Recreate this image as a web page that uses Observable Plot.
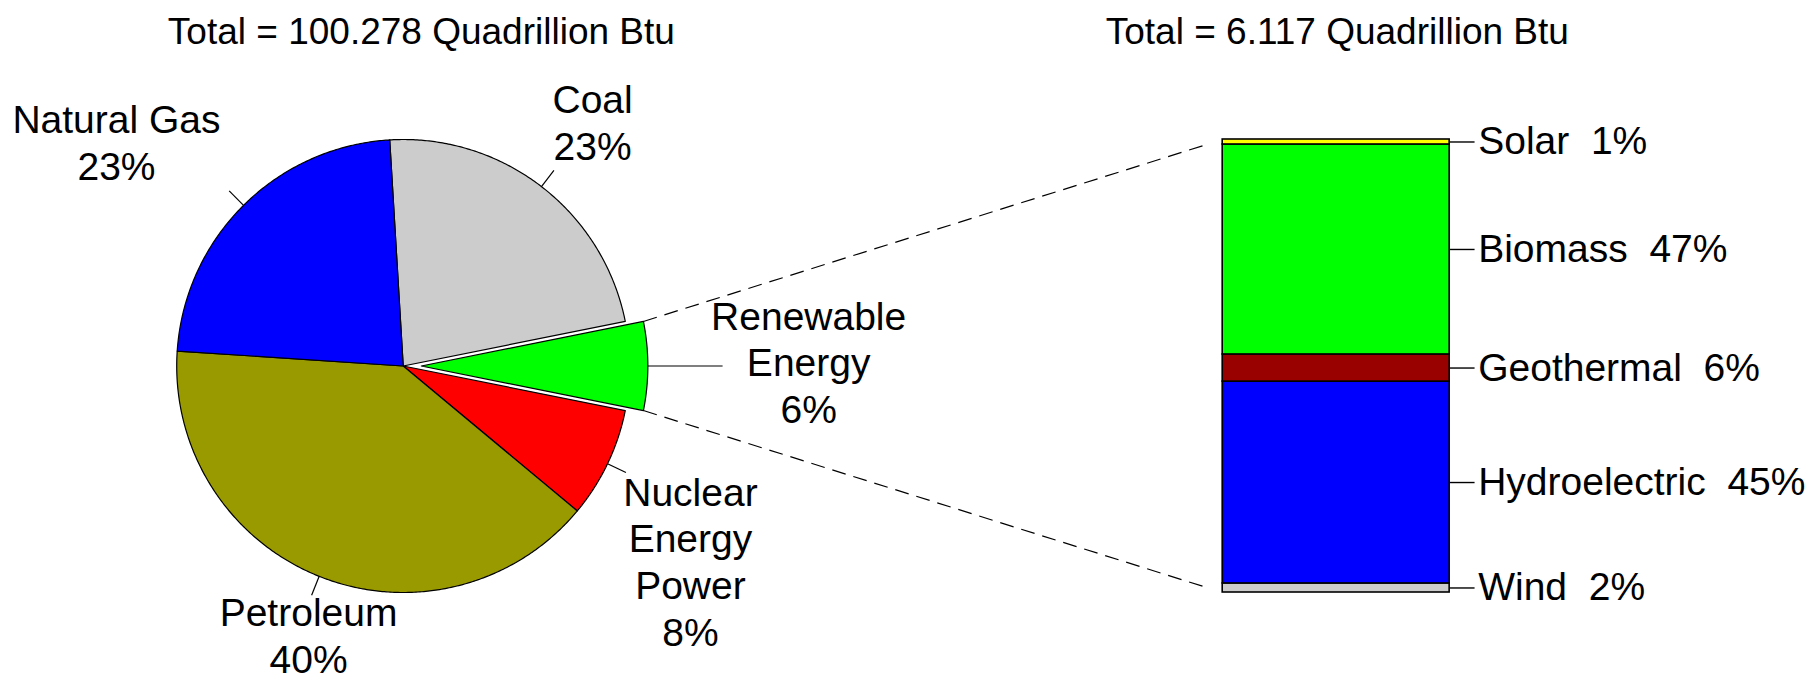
<!DOCTYPE html>
<html><head><meta charset="utf-8">
<script src="https://cdn.jsdelivr.net/npm/d3@7"></script>
<script src="https://cdn.jsdelivr.net/npm/@observablehq/plot@0.6"></script>
<style>
html,body{margin:0;padding:0;background:#fff;}
svg text{white-space:pre;}
</style></head><body><div id="chart"></div>
<script>
// ---------- DATA ----------
const pieTotal = 100.278;           // quadrillion Btu
const renewTotal = 6.117;           // quadrillion Btu
const sources = ["Coal", "Renewable Energy", "Nuclear Energy Power", "Petroleum", "Natural Gas"];
const sourceValues = [22.8, 6.3, 7.9, 40.0, 23.0];   // share of total (%)
const sourcePct = [23, 6, 8, 40, 23];                // printed labels
const sourceLabels = ["Coal", "Renewable\nEnergy", "Nuclear\nEnergy\nPower", "Petroleum", "Natural Gas"];
const sourceColors = ["#cccccc", "#00ff00", "#ff0000", "#999900", "#0000ff"];

const renewables = ["Wind", "Hydroelectric", "Geothermal", "Biomass", "Solar"]; // bottom to top
const renewValues = [2.0, 44.6, 6.0, 46.4, 1.1];     // share of renewable total (%)
const renewPct = [2, 45, 6, 47, 1];                  // printed labels
const renewColors = ["#cccccc", "#0000ff", "#990000", "#00ff00", "#ffff00"];

// ---------- LAYOUT (plot units: 1 unit = bar height) ----------
const W = 1815, H = 682, PX = 453;
const cx = 0.889, cy = 0.5, R = 0.5, explode = 0.04, explodeName = "Renewable Energy";
const barX1 = 2.698, barX2 = 3.199, tickX2 = 3.254, textX = 3.262;
const leaderLen = 0.045, leaderLenExploded = 0.165;
const labelPos = {
  "Coal": [1.307, 1.040],
  "Renewable Energy": [1.784, 0.510],
  "Nuclear Energy Power": [1.523, 0.070],
  "Petroleum": [0.680, -0.092],
  "Natural Gas": [0.256, 0.995]
};
const titleX = [0.929, 2.951], titleY = 1.238;

// ---------- PIE GEOMETRY ----------
const total = d3.sum(sourceValues);
const rad = a => a * Math.PI / 180;
let start = 90 - (sourceValues[1] / total * 360) / 2 - sourceValues[0] / total * 360;
const slices = sources.map((name, i) => {
  const a0 = start, a1 = start + sourceValues[i] / total * 360;
  start = a1;
  const am = (a0 + a1) / 2;
  const off = name === explodeName ? explode : 0;
  return {name, a0, a1, am, ox: cx + off * Math.sin(rad(am)), oy: cy + off * Math.cos(rad(am))};
});
const piePoints = [];
for (const s of slices) {
  piePoints.push({name: s.name, x: s.ox, y: s.oy});
  const n = Math.max(2, Math.ceil((s.a1 - s.a0) / 0.5));
  for (let k = 0; k <= n; k++) {
    const a = s.a0 + (s.a1 - s.a0) * k / n;
    piePoints.push({name: s.name, x: s.ox + R * Math.sin(rad(a)), y: s.oy + R * Math.cos(rad(a))});
  }
  piePoints.push({name: s.name, x: s.ox, y: s.oy});
}
const leaders = slices.map(s => {
  const L = s.name === explodeName ? leaderLenExploded : leaderLen;
  return {x1: s.ox + R * Math.sin(rad(s.am)), y1: s.oy + R * Math.cos(rad(s.am)),
          x2: s.ox + (R + L) * Math.sin(rad(s.am)), y2: s.oy + (R + L) * Math.cos(rad(s.am))};
});
const pieLabels = slices.map((s, i) => ({x: labelPos[s.name][0], y: labelPos[s.name][1], text: sourceLabels[i] + "\n" + sourcePct[i] + "%"}));

// ---------- BAR GEOMETRY ----------
const rTotal = d3.sum(renewValues);
const cum = d3.cumsum(renewValues);
const barRows = renewables.map((name, i) => {
  const y2 = cum[i] / rTotal, y1 = (cum[i] - renewValues[i]) / rTotal;
  return {name, y1, y2, ym: (y1 + y2) / 2, bx1: barX1, bx2: barX2, tx: tickX2, lx: textX, label: name + "  " + renewPct[i] + "%"};
});

// ---------- CONNECTORS ----------
const ex = slices.find(s => s.name === explodeName);
const conn = [[ex.a0, 1], [ex.a1, 0]].map(([a, by]) => {
  const xs = ex.ox + R * Math.sin(rad(a)), ys = ex.oy + R * Math.cos(rad(a));
  const xe = barX1 - 0.033, t = (xe - xs) / (barX1 - xs);
  return {x1: xs, y1: ys, x2: xe, y2: ys + t * (by - ys)};
});

const titles = [
  {x: titleX[0], y: titleY, text: `Total = ${pieTotal.toFixed(3)} Quadrillion Btu`},
  {x: titleX[1], y: titleY, text: `Total = ${renewTotal.toFixed(3)} Quadrillion Btu`}
];

const font = "'Liberation Sans', Arimo, Arial, sans-serif";
const chart = Plot.plot({
  width: W, height: H,
  marginTop: 0, marginBottom: 0, marginLeft: 0, marginRight: 0,
  style: {background: "#fff", fontFamily: font, overflow: "visible"},
  x: {domain: [0, W / PX], range: [0, W], axis: null},
  y: {domain: [0, 1], range: [592, 139], axis: null},
  color: {domain: sources.concat(renewables), range: sourceColors.concat(renewColors)},
  marks: [
    Plot.link(conn, {x1: "x1", y1: "y1", x2: "x2", y2: "y2", stroke: "#000", strokeWidth: 1.2, strokeDasharray: "14,8"}),
    Plot.line(piePoints, {x: "x", y: "y", z: "name", fill: "name", stroke: "#000", strokeWidth: 1.2, strokeLinejoin: "round"}),
    Plot.link(leaders, {x1: "x1", y1: "y1", x2: "x2", y2: "y2", stroke: "#000", strokeWidth: 1.2}),
    Plot.rect(barRows, {x1: "bx1", x2: "bx2", y1: "y1", y2: "y2", fill: "name", stroke: "#000", strokeWidth: 1.6}),
    Plot.link(barRows, {x1: "bx2", x2: "tx", y1: "ym", y2: "ym", stroke: "#000", strokeWidth: 1.4}),
    Plot.text(barRows, {x: "lx", y: "ym", text: "label", textAnchor: "start", fontSize: 39, fill: "#000", fontFamily: font}),
    Plot.text(pieLabels, {x: "x", y: "y", text: "text", textAnchor: "middle", lineAnchor: "middle", lineHeight: 1.2, fontSize: 39, fill: "#000", fontFamily: font}),
    Plot.text(titles, {x: "x", y: "y", text: "text", textAnchor: "middle", fontSize: 37, fill: "#000", fontFamily: font})
  ]
});
document.getElementById("chart").appendChild(chart);
</script></body></html>
